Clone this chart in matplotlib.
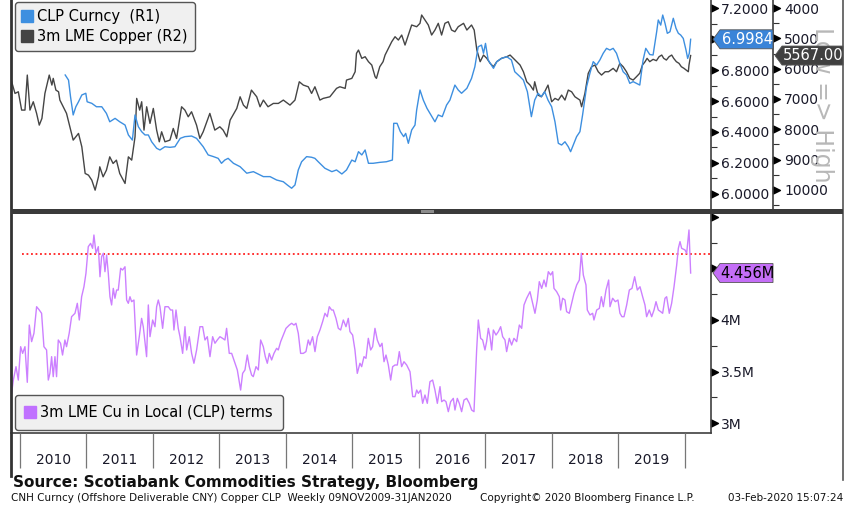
import numpy as np
import matplotlib
matplotlib.use('Agg')
import matplotlib.pyplot as plt
from matplotlib.lines import Line2D
from matplotlib.patches import Polygon, Rectangle
from matplotlib.path import Path

# ---- data (times as decimal years) ----
cnh_t = [2010.68, 2010.73, 2010.76, 2010.80, 2010.84, 2010.88, 2010.93, 2010.99, 2011.01, 2011.08,
         2011.15, 2011.23, 2011.30, 2011.35, 2011.43, 2011.50, 2011.58, 2011.63, 2011.69, 2011.73,
         2011.78, 2011.83, 2011.88, 2011.93, 2011.98, 2012.055, 2012.105, 2012.18, 2012.255, 2012.33,
         2012.41, 2012.48, 2012.58, 2012.655, 2012.755, 2012.83, 2012.91, 2012.98, 2013.03, 2013.08,
         2013.13, 2013.21, 2013.31, 2013.41, 2013.51, 2013.66, 2013.76, 2013.86, 2013.96, 2014.02,
         2014.085, 2014.135, 2014.185, 2014.235, 2014.31, 2014.385, 2014.435, 2014.485, 2014.585, 2014.69,
         2014.76, 2014.84, 2014.91, 2014.99, 2015.04, 2015.09, 2015.14, 2015.19, 2015.24, 2015.31,
         2015.41, 2015.51, 2015.60, 2015.62, 2015.67, 2015.72, 2015.77, 2015.80, 2015.84, 2015.89,
         2015.94, 2015.965, 2016.015, 2016.065, 2016.12, 2016.165, 2016.24, 2016.29, 2016.35, 2016.415,
         2016.465, 2016.54, 2016.59, 2016.64, 2016.72, 2016.79, 2016.84, 2016.89, 2016.94, 2016.97,
         2017.00, 2017.04, 2017.09, 2017.12, 2017.17, 2017.24, 2017.32, 2017.39, 2017.44, 2017.52,
         2017.57, 2017.63, 2017.69, 2017.74, 2017.79, 2017.84, 2017.89, 2017.94, 2017.995, 2018.045,
         2018.095, 2018.145, 2018.195, 2018.245, 2018.28, 2018.32, 2018.37, 2018.42, 2018.46, 2018.52,
         2018.57, 2018.62, 2018.67, 2018.72, 2018.77, 2018.82, 2018.87, 2018.92, 2018.97, 2019.02,
         2019.07, 2019.12, 2019.17, 2019.22, 2019.27, 2019.32, 2019.37, 2019.41, 2019.47, 2019.52,
         2019.574, 2019.598, 2019.635, 2019.665, 2019.70, 2019.734, 2019.774, 2019.824, 2019.865, 2019.90,
         2019.935, 2019.974, 2020.015, 2020.04, 2020.065, 2020.085]
cnh_v = [6.768, 6.735, 6.628, 6.510, 6.563, 6.595, 6.639, 6.650, 6.595, 6.585,
         6.563, 6.563, 6.520, 6.466, 6.488, 6.466, 6.445, 6.381, 6.348, 6.510,
         6.434, 6.402, 6.381, 6.381, 6.337, 6.295, 6.284, 6.305, 6.301, 6.305,
         6.359, 6.370, 6.374, 6.359, 6.305, 6.252, 6.241, 6.230, 6.198, 6.219,
         6.230, 6.198, 6.176, 6.134, 6.144, 6.112, 6.112, 6.090, 6.079, 6.058,
         6.037, 6.058, 6.155, 6.208, 6.241, 6.237, 6.230, 6.208, 6.166, 6.144,
         6.155, 6.129, 6.155, 6.219, 6.208, 6.273, 6.252, 6.284, 6.198, 6.198,
         6.204, 6.208, 6.219, 6.456, 6.456, 6.402, 6.370, 6.391, 6.327, 6.413,
         6.445, 6.542, 6.671, 6.606, 6.553, 6.520, 6.466, 6.510, 6.499, 6.574,
         6.606, 6.703, 6.671, 6.650, 6.682, 6.746, 6.821, 6.950, 6.961, 6.908,
         6.972, 6.865, 6.832, 6.811, 6.854, 6.875, 6.886, 6.865, 6.789, 6.757,
         6.735, 6.660, 6.499, 6.606, 6.650, 6.628, 6.660, 6.606, 6.563, 6.466,
         6.327, 6.316, 6.337, 6.305, 6.273, 6.316, 6.370, 6.402, 6.510, 6.692,
         6.779, 6.854, 6.832, 6.865, 6.908, 6.940, 6.929, 6.940, 6.908, 6.843,
         6.789, 6.768, 6.714, 6.725, 6.714, 6.703, 6.865, 6.940, 6.900, 6.897,
         7.047, 7.123, 7.090, 7.155, 7.101, 7.037, 7.047, 7.134, 7.069, 7.037,
         7.026, 7.004, 6.929, 6.875, 6.908, 6.9984]

copper_t = [2009.875, 2009.925, 2009.975, 2010.025, 2010.075, 2010.11, 2010.15, 2010.20, 2010.25, 2010.29,
            2010.33, 2010.375, 2010.44, 2010.48, 2010.50, 2010.54, 2010.58, 2010.60, 2010.65, 2010.70,
            2010.75, 2010.80, 2010.88, 2010.93, 2010.98, 2011.03, 2011.08, 2011.13, 2011.18, 2011.20,
            2011.25, 2011.30, 2011.35, 2011.40, 2011.45, 2011.50, 2011.58, 2011.63, 2011.68, 2011.73,
            2011.755, 2011.80, 2011.83, 2011.865, 2011.905, 2011.955, 2012.005, 2012.055, 2012.095, 2012.13,
            2012.18, 2012.255, 2012.305, 2012.355, 2012.43, 2012.48, 2012.53, 2012.58, 2012.655, 2012.705,
            2012.755, 2012.855, 2012.93, 2013.005, 2013.055, 2013.11, 2013.16, 2013.26, 2013.31, 2013.36,
            2013.41, 2013.48, 2013.56, 2013.61, 2013.66, 2013.73, 2013.81, 2013.885, 2013.96, 2014.06,
            2014.135, 2014.20, 2014.26, 2014.335, 2014.385, 2014.435, 2014.51, 2014.56, 2014.66, 2014.76,
            2014.81, 2014.89, 2014.91, 2014.99, 2015.04, 2015.06, 2015.09, 2015.14, 2015.19, 2015.24,
            2015.29, 2015.34, 2015.36, 2015.41, 2015.46, 2015.49, 2015.54, 2015.59, 2015.64, 2015.69,
            2015.74, 2015.79, 2015.84, 2015.89, 2015.965, 2016.015, 2016.04, 2016.09, 2016.14, 2016.19,
            2016.24, 2016.29, 2016.34, 2016.39, 2016.44, 2016.49, 2016.54, 2016.59, 2016.67, 2016.72,
            2016.79, 2016.83, 2016.87, 2016.92, 2016.97, 2017.02, 2017.07, 2017.12, 2017.17, 2017.24,
            2017.32, 2017.37, 2017.42, 2017.47, 2017.52, 2017.57, 2017.62, 2017.67, 2017.72, 2017.74,
            2017.79, 2017.84, 2017.89, 2017.94, 2017.995, 2018.045, 2018.095, 2018.145, 2018.195, 2018.245,
            2018.295, 2018.345, 2018.42, 2018.445, 2018.495, 2018.545, 2018.595, 2018.645, 2018.695, 2018.745,
            2018.80, 2018.85, 2018.92, 2018.97, 2019.02, 2019.07, 2019.12, 2019.17, 2019.22, 2019.27,
            2019.32, 2019.36, 2019.40, 2019.43, 2019.47, 2019.52, 2019.57, 2019.61, 2019.65, 2019.68,
            2019.72, 2019.76, 2019.80, 2019.83, 2019.87, 2019.91, 2019.945, 2019.985, 2020.03, 2020.05,
            2020.06, 2020.085]
copper_v = [6432, 6816, 6762, 7366, 7366, 6211, 7366, 7091, 7475, 7861,
            7640, 6816, 6211, 6541, 6320, 6706, 6762, 7036, 7256, 7475,
            7916, 8356, 8135, 8577, 9455, 9511, 9676, 10006, 9566, 9236,
            9566, 9346, 8907, 9126, 9016, 9455, 9785, 8907, 9016, 8247,
            6980, 7366, 7091, 8026, 7256, 7805, 7311, 8026, 8411, 8081,
            8411, 8356, 7971, 8301, 7256, 7366, 7586, 7421, 7861, 8301,
            8081, 7475, 8026, 7916, 8026, 8247, 7696, 7311, 6927, 7201,
            7311, 6706, 6927, 7256, 7036, 7256, 7146, 7146, 7036, 7201,
            7036, 6432, 6541, 6597, 6816, 6597, 7036, 6980, 6927, 6650,
            6597, 6650, 6376, 6320, 6101, 5495, 5386, 5660, 5606, 5770,
            5881, 6266, 6320, 5936, 5770, 5551, 5330, 5112, 4947, 5056,
            4891, 5221, 4891, 4561, 4617, 4505, 4231, 4396, 4561, 4891,
            4726, 4505, 4891, 4505, 4452, 4726, 4782, 4617, 4505, 4726,
            4561, 4726, 5386, 5770, 5551, 5660, 5825, 5936, 5770, 5660,
            5606, 5551, 5660, 5770, 5881, 6101, 6432, 6541, 6706, 6432,
            6871, 6927, 6762, 6541, 7091, 6980, 7036, 6871, 7036, 6706,
            6762, 6927, 7036, 7256, 6816, 6155, 5936, 5881, 6101, 6211,
            6101, 6101, 5990, 6101, 5825, 5936, 6101, 6320, 6376, 6266,
            6150, 5881, 5770, 5660, 5770, 5693, 5737, 5606, 5551, 5660,
            5716, 5606, 5551, 5660, 5770, 5825, 5936, 5990, 6069, 6101,
            5881, 5567]

cu_clp_t = [2009.874, 2009.90, 2009.94, 2009.975, 2010.01, 2010.04, 2010.075, 2010.11, 2010.14, 2010.175,
            2010.21, 2010.25, 2010.29, 2010.325, 2010.36, 2010.40, 2010.426, 2010.45, 2010.476, 2010.50,
            2010.526, 2010.55, 2010.576, 2010.61, 2010.64, 2010.676, 2010.70, 2010.74, 2010.776, 2010.827,
            2010.862, 2010.892, 2010.927, 2010.962, 2010.992, 2011.027, 2011.062, 2011.092, 2011.112, 2011.143,
            2011.178, 2011.203, 2011.228, 2011.253, 2011.278, 2011.303, 2011.328, 2011.353, 2011.378, 2011.403,
            2011.428, 2011.453, 2011.478, 2011.514, 2011.543, 2011.579, 2011.604, 2011.629, 2011.654, 2011.679,
            2011.714, 2011.754, 2011.794, 2011.829, 2011.854, 2011.904, 2011.93, 2011.955, 2011.995, 2012.03,
            2012.055, 2012.08, 2012.105, 2012.145, 2012.18, 2012.23, 2012.265, 2012.295, 2012.315, 2012.346,
            2012.38, 2012.406, 2012.446, 2012.481, 2012.506, 2012.546, 2012.581, 2012.616, 2012.656, 2012.706,
            2012.747, 2012.782, 2012.817, 2012.857, 2012.897, 2012.932, 2012.967, 2013.007, 2013.047, 2013.082,
            2013.107, 2013.147, 2013.183, 2013.233, 2013.268, 2013.318, 2013.348, 2013.383, 2013.418, 2013.448,
            2013.483, 2013.508, 2013.549, 2013.584, 2013.619, 2013.659, 2013.689, 2013.719, 2013.749, 2013.784,
            2013.819, 2013.859, 2013.884, 2013.92, 2013.96, 2014.0, 2014.05, 2014.085, 2014.12, 2014.15,
            2014.185, 2014.22, 2014.26, 2014.30, 2014.335, 2014.36, 2014.40, 2014.436, 2014.471, 2014.511,
            2014.551, 2014.586, 2014.621, 2014.651, 2014.686, 2014.711, 2014.752, 2014.787, 2014.822, 2014.862,
            2014.902, 2014.937, 2014.962, 2015.002, 2015.037, 2015.072, 2015.112, 2015.138, 2015.173, 2015.203,
            2015.238, 2015.273, 2015.303, 2015.338, 2015.373, 2015.414, 2015.444, 2015.474, 2015.504, 2015.539,
            2015.574, 2015.604, 2015.639, 2015.674, 2015.704, 2015.739, 2015.774, 2015.815, 2015.865, 2015.905,
            2015.94, 2015.965, 2015.99, 2016.025, 2016.055, 2016.09, 2016.125, 2016.165, 2016.205, 2016.24,
            2016.276, 2016.316, 2016.341, 2016.376, 2016.406, 2016.441, 2016.476, 2016.516, 2016.541, 2016.576,
            2016.606, 2016.641, 2016.677, 2016.717, 2016.757, 2016.792, 2016.827, 2016.867, 2016.892, 2016.927,
            2016.957, 2016.992, 2017.017, 2017.043, 2017.068, 2017.093, 2017.118, 2017.158, 2017.193, 2017.228,
            2017.258, 2017.293, 2017.318, 2017.358, 2017.393, 2017.428, 2017.469, 2017.509, 2017.544, 2017.579,
            2017.619, 2017.669, 2017.709, 2017.744, 2017.779, 2017.809, 2017.845, 2017.88, 2017.91, 2017.945,
            2017.98, 2018.01, 2018.03, 2018.07, 2018.11, 2018.13, 2018.16, 2018.195, 2018.22, 2018.26,
            2018.296, 2018.331, 2018.371, 2018.411, 2018.441, 2018.471, 2018.511, 2018.531, 2018.571, 2018.611,
            2018.631, 2018.672, 2018.712, 2018.742, 2018.772, 2018.812, 2018.852, 2018.872, 2018.912, 2018.952,
            2018.992, 2019.022, 2019.052, 2019.083, 2019.123, 2019.163, 2019.203, 2019.243, 2019.283, 2019.323,
            2019.363, 2019.398, 2019.423, 2019.463, 2019.499, 2019.534, 2019.564, 2019.599, 2019.634, 2019.664,
            2019.699, 2019.724, 2019.764, 2019.799, 2019.835, 2019.875, 2019.9, 2019.925, 2019.95, 2020.0,
            2020.025, 2020.06, 2020.085]
cu_clp_v = [3.288, 3.417, 3.547, 3.417, 3.741, 3.676, 3.741, 3.395, 3.951, 3.790,
            3.871, 4.129, 4.097, 4.065, 3.741, 3.709, 3.417, 3.482, 3.644, 3.450,
            3.644, 3.450, 3.806, 3.774, 3.660, 3.806, 3.741, 3.871, 4.032, 4.065,
            4.162, 4.000, 4.226, 4.323, 4.453, 4.712, 4.744, 4.696, 4.825, 4.648,
            4.712, 4.420, 4.615, 4.648, 4.469, 4.631, 4.453, 4.226, 4.146, 4.307,
            4.211, 4.291, 4.291, 4.502, 4.485, 4.517, 4.194, 4.162, 4.226, 4.178,
            4.194, 3.660, 3.838, 4.016, 3.935, 3.644, 4.146, 3.838, 4.000, 3.935,
            4.129, 4.194, 4.129, 3.919, 4.129, 4.129, 4.097, 4.097, 3.903, 4.097,
            3.919, 3.838, 3.676, 3.935, 3.709, 3.838, 3.676, 3.580, 3.709, 3.935,
            3.935, 3.806, 3.838, 3.644, 3.838, 3.774, 3.806, 3.838, 3.822, 3.806,
            3.919, 3.676, 3.676, 3.580, 3.515, 3.320, 3.482, 3.515, 3.660, 3.547,
            3.466, 3.450, 3.547, 3.515, 3.806, 3.741, 3.644, 3.580, 3.676, 3.612,
            3.676, 3.725, 3.709, 3.790, 3.854, 3.919, 3.951, 3.968, 3.951, 3.968,
            3.871, 3.676, 3.676, 3.693, 3.806, 3.757, 3.838, 3.693, 3.838, 3.903,
            3.984, 4.065, 4.032, 4.129, 4.097, 4.097, 4.016, 3.919, 3.903, 4.000,
            3.935, 4.016, 3.887, 3.854, 3.709, 3.482, 3.580, 3.547, 3.644, 3.628,
            3.822, 3.709, 3.741, 3.919, 3.806, 3.741, 3.774, 3.595, 3.660, 3.563,
            3.417, 3.547, 3.563, 3.563, 3.693, 3.547, 3.595, 3.563, 3.498, 3.256,
            3.256, 3.320, 3.288, 3.320, 3.191, 3.272, 3.191, 3.401, 3.417, 3.320,
            3.191, 3.353, 3.207, 3.223, 3.207, 3.110, 3.207, 3.239, 3.126, 3.239,
            3.191, 3.110, 3.223, 3.239, 3.191, 3.126, 3.110, 3.709, 4.000, 3.822,
            3.806, 3.709, 3.790, 3.919, 3.838, 3.709, 3.903, 3.854, 3.887, 3.935,
            3.838, 3.806, 3.693, 3.822, 3.757, 3.822, 3.790, 3.951, 3.919, 4.146,
            4.211, 4.275, 4.162, 4.065, 4.194, 4.372, 4.307, 4.388, 4.323, 4.469,
            4.437, 4.469, 4.307, 4.275, 4.226, 4.097, 4.211, 4.194, 4.081, 4.065,
            4.162, 4.259, 4.340, 4.388, 4.648, 4.437, 4.340, 4.097, 4.049, 4.065,
            4.000, 4.097, 4.113, 4.226, 4.129, 4.291, 4.388, 4.129, 4.211, 4.178,
            4.194, 4.065, 4.032, 4.032, 4.146, 4.291, 4.307, 4.420, 4.291, 4.323,
            4.226, 4.146, 4.032, 4.097, 4.032, 4.097, 4.178, 4.097, 4.081, 4.065,
            4.211, 4.226, 4.065, 4.162, 4.323, 4.534, 4.696, 4.761, 4.696, 4.680,
            4.648, 4.874, 4.456]

threshold = 4.64          # red dotted reference line, millions
threshold_start = 2010.03

r1_ticks = [6.0, 6.2, 6.4, 6.6, 6.8, 7.0, 7.2]
r1_labels = ['6.0000', '6.2000', '6.4000', '6.6000', '6.8000', '', '7.2000']
r2_ticks = [4000, 5000, 6000, 7000, 8000, 9000, 10000]
low_ticks = [3.0, 3.5, 4.0, 4.5, 5.0]
low_labels = ['3M', '3.5M', '4M', '', '']
years = list(range(2010, 2020))

BLUE = '#3d8fe0'
GREY = '#454545'
PURPLE = '#cc80ff'
W, H = 847, 505


def fpos(x, y):
    # pixel (from top-left) -> figure fraction
    return x / W, 1 - y / H


arrow = Path([(0, -0.5), (1, 0), (0, 0.5), (0, -0.5)],
             [Path.MOVETO, Path.LINETO, Path.LINETO, Path.CLOSEPOLY])


def arrow_ticks(ax, xpos, ticks):
    ax.plot([xpos] * len(ticks), ticks, ls='none', marker=arrow, ms=10, color='black',
            transform=ax.get_yaxis_transform(), clip_on=False)


def tag(ax, xpos, value, width, face, text, tcolor):
    x0, y0 = ax.get_yaxis_transform().transform((xpos, value))
    x0 += 2
    h = 19
    pts = [(x0, y0), (x0 + 7, y0 + h / 2), (x0 + width, y0 + h / 2),
           (x0 + width, y0 - h / 2), (x0 + 7, y0 - h / 2)]
    pts = fig.transFigure.inverted().transform(pts)
    fig.add_artist(Polygon(pts, closed=True, facecolor=face, edgecolor='#555555', lw=0.6,
                           transform=fig.transFigure, zorder=5))
    cx, cy = fig.transFigure.inverted().transform((x0 + 4 + width / 2, y0))
    fig.text(cx, cy, text, color=tcolor, fontsize=10.5, ha='center', va='center', zorder=6)


fig = plt.figure(figsize=(W / 100, H / 100), dpi=100)
fig.patch.set_facecolor('white')

# ---- top panel ----
ax1 = fig.add_axes([11 / W, 1 - 209 / H, 700 / W, 209 / H])
ax1b = ax1.twinx()
ax1.plot(cnh_t, cnh_v, color=BLUE, lw=1.0, zorder=3)
ax1b.plot(copper_t, copper_v, color=GREY, lw=1.0, zorder=2)
ax1.set_zorder(ax1b.get_zorder() + 1)
ax1.patch.set_visible(False)
ax1.set_xlim(2009.865, 2020.391)
ax1.set_ylim(5.903, 7.252)
ax1b.set_ylim(10627, 3736)

ax1.yaxis.tick_right()
ax1.set_yticks(r1_ticks)
ax1.set_yticklabels(r1_labels)
ax1.set_yticks(np.arange(6.1, 7.25, 0.2), minor=True)
ax1b.set_yticks(r2_ticks)
ax1b.set_yticklabels([str(v) for v in r2_ticks])
ax1b.set_yticks(np.arange(4500, 10600, 1000), minor=True)
r2x = (773 - 11) / 700
ax1b.spines['right'].set_position(('axes', r2x))
for a, pad in ((ax1, 7), (ax1b, 8)):
    a.tick_params(axis='y', which='major', length=0, pad=pad, labelsize=10, labelcolor='#1a1a2a')
    a.tick_params(axis='y', which='minor', length=4, width=0.8, color='#333333')
    a.set_xticks([])
    for s in ('top', 'bottom', 'left'):
        a.spines[s].set_visible(False)
    a.spines['right'].set_color('#404040')
    a.spines['right'].set_linewidth(1.2)
arrow_ticks(ax1, 1.0, r1_ticks)
arrow_ticks(ax1b, r2x, r2_ticks)

leg1 = ax1.legend([Line2D([], [], ls='none', marker='s', ms=8, color=BLUE),
                   Line2D([], [], ls='none', marker='s', ms=8, color='#444444')],
                  ['CLP Curncy  (R1)', '3m LME Copper (R2)'],
                  loc='upper left', bbox_to_anchor=(4 / 700, 1 - 2 / 209), borderaxespad=0,
                  fontsize=10.5, handlelength=0.7, handletextpad=0.3, borderpad=0.5,
                  labelspacing=0.3, fancybox=True, framealpha=1, facecolor='#f0f0f0',
                  edgecolor='#555555')
leg1.get_frame().set_linewidth(1.0)

# ---- bottom panel ----
ax2 = fig.add_axes([11 / W, 1 - 433 / H, 700 / W, 219 / H])
ax2.plot(cu_clp_t, cu_clp_v, color=PURPLE, lw=1.0, zorder=3)
ax2.hlines(threshold, threshold_start, 2020.391, colors='#ff2020', linestyles=(0, (1, 1.5)), lw=1.3, zorder=2)
ax2.set_xlim(2009.865, 2020.391)
ax2.set_ylim(2.903, 5.029)
ax2.yaxis.tick_right()
ax2.set_yticks(low_ticks)
ax2.set_yticklabels(low_labels)
ax2.set_yticks([3.25, 3.75, 4.25, 4.75], minor=True)
ax2.tick_params(axis='y', which='major', length=0, pad=7, labelsize=10, labelcolor='#1a1a2a')
ax2.tick_params(axis='y', which='minor', length=4, width=0.8, color='#333333')
ax2.set_xticks([])
ax2.spines['top'].set_visible(False)
ax2.spines['left'].set_visible(False)
for s in ('right', 'bottom'):
    ax2.spines[s].set_color('#404040')
    ax2.spines[s].set_linewidth(1.2)
arrow_ticks(ax2, 1.0, low_ticks)

leg2 = ax2.legend([Line2D([], [], ls='none', marker='s', ms=8, color='#c070ff')],
                  ['3m LME Cu in Local (CLP) terms'],
                  loc='lower left', bbox_to_anchor=(4 / 700, 3 / 219), borderaxespad=0,
                  fontsize=10.5, handlelength=0.7, handletextpad=0.3, borderpad=0.7,
                  fancybox=True, framealpha=1, facecolor='#f0f0f0', edgecolor='#555555')
leg2.get_frame().set_linewidth(1.0)

# ---- year strip ----
ax3 = fig.add_axes([11 / W, 1 - 470 / H, 700 / W, 37 / H])
ax3.set_xlim(2009.865, 2020.391)
ax3.set_ylim(0, 1)
ax3.axis('off')
ax3.vlines(years + [2020], 0.05, 1, colors='#777777', lw=0.9)
for yr in years:
    ax3.text(yr + 0.5, 0.28, str(yr), ha='center', va='center', fontsize=10, color='#1a1a2a')

# ---- frame, divider, tags, texts ----
fig.add_artist(Rectangle(fpos(11, 214), 832 / W, 5 / H, transform=fig.transFigure,
                         facecolor='#3a3a3a', edgecolor='none', zorder=4))
fig.add_artist(Rectangle(fpos(421, 213), 13 / W, 3 / H, transform=fig.transFigure,
                         facecolor='#8c8c8c', edgecolor='none', zorder=5))
fig.add_artist(Line2D([10.5 / W] * 2, [1, 1 - 476 / H], transform=fig.transFigure,
                      color='#333333', lw=2.0))
fig.add_artist(Line2D([843 / W] * 2, [1, 1 - 480 / H], transform=fig.transFigure,
                      color='#555555', lw=1.2))

tag(ax1, 1.0, cnh_v[-1], 60, '#3a84d8', '%.4f' % cnh_v[-1], 'white')
tag(ax1b, r2x, copper_v[-1], 68, '#404040', '%.2f' % copper_v[-1], 'white')
tag(ax2, 1.0, cu_clp_v[-1], 60, '#c46ef7', '%.3fM' % cu_clp_v[-1], 'black')

fig.text(*fpos(822, 105), 'Low => High', rotation=-90, fontsize=17, color='#b8b8b8',
         ha='center', va='center', zorder=0)

fig.text(*fpos(13, 483), 'Source: Scotiabank Commodities Strategy, Bloomberg',
         fontsize=11, fontweight='bold', va='center', color='#111111')
fig.text(*fpos(11, 498), 'CNH Curncy (Offshore Deliverable CNY) Copper CLP  Weekly 09NOV2009-31JAN2020',
         fontsize=7.5, va='center', color='#111111')
fig.text(*fpos(480, 498), 'Copyright\u00a9 2020 Bloomberg Finance L.P.',
         fontsize=7.5, va='center', color='#111111')
fig.text(*fpos(843, 498), '03-Feb-2020 15:07:24', fontsize=7.5, va='center', ha='right',
         color='#111111')

fig.savefig('out.png', dpi=100, facecolor='white')
